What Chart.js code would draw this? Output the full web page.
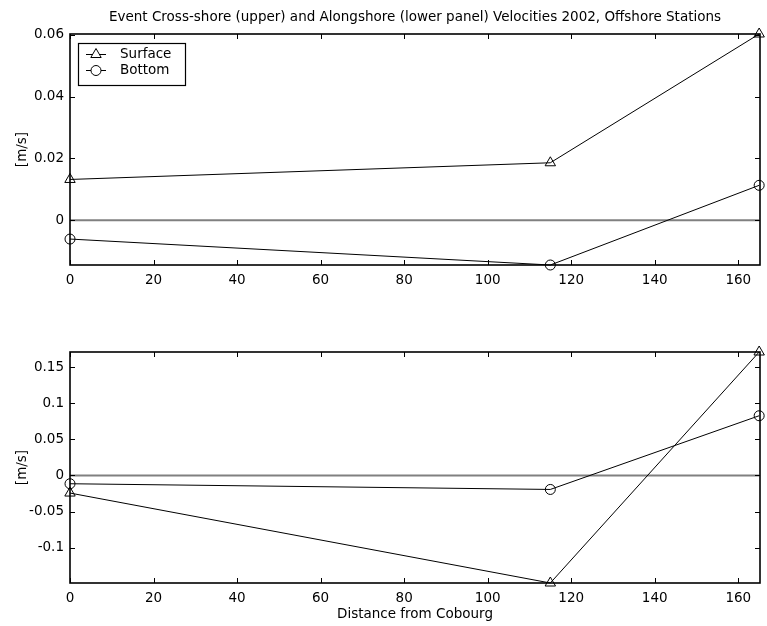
<!DOCTYPE html>
<html>
<head>
<meta charset="utf-8">
<script src="https://cdn.jsdelivr.net/npm/chart.js@4.4.1/dist/chart.umd.min.js"></script>
<style>
  html, body { margin: 0; padding: 0; background: #fff; }
  #wrap { position: relative; width: 767px; height: 626px; }
  .panel { position: absolute; left: 0; width: 767px; }
  #upper { top: 0; height: 300px; }
  #lower { top: 300px; height: 326px; }
</style>
</head>
<body>
<div id="wrap">
  <div class="panel" id="upper"><canvas id="crossChart"></canvas></div>
  <div class="panel" id="lower"><canvas id="alongChart"></canvas></div>
</div>
<script>
// distance from Cobourg of the three stations
const distances = [0, 115, 165];

// upper panel: cross-shore velocities [m/s]
const crossSurface = [0.0132, 0.0186, 0.0603];
const crossBottom = [-0.0061, -0.0145, 0.0113];

// lower panel: alongshore velocities [m/s]
const alongSurface = [-0.0244, -0.149, 0.171];
const alongBottom = [-0.0115, -0.0194, 0.0827];

const xTicks = [0, 20, 40, 60, 80, 100, 120, 140, 160];
const crossTicks = [0, 0.02, 0.04, 0.06];
const alongTicks = [-0.1, -0.05, 0, 0.05, 0.1, 0.15];

const FONT = '"DejaVu Sans", Arial, sans-serif';
const FSIZE = 13.5;
Chart.defaults.font.family = FONT;
Chart.defaults.font.size = FSIZE;
Chart.defaults.color = '#000';

// frame around the axes with MATLAB-style inward ticks on all four sides
const framePlugin = {
    id: 'frame',
    afterDatasetsDraw(chart) {
        const ctx = chart.ctx;
        const a = chart.chartArea;
        const x = chart.scales.x;
        const y = chart.scales.y;
        ctx.save();
        ctx.strokeStyle = '#000';
        ctx.lineWidth = 1;
        ctx.beginPath();
        x.ticks.forEach(t => {
            const px = Math.round(x.getPixelForValue(t.value)) + 0.5;
            ctx.moveTo(px, a.bottom); ctx.lineTo(px, a.bottom - 5);
            ctx.moveTo(px, a.top); ctx.lineTo(px, a.top + 5);
        });
        y.ticks.forEach(t => {
            const py = Math.round(y.getPixelForValue(t.value)) + 0.5;
            ctx.moveTo(a.left, py); ctx.lineTo(a.left + 5, py);
            ctx.moveTo(a.right, py); ctx.lineTo(a.right - 5, py);
        });
        ctx.stroke();
        ctx.lineWidth = 1.6;
        ctx.strokeRect(a.left, a.top, a.right - a.left, a.bottom - a.top);
        ctx.restore();
    }
};

// boxed legend with the line drawn through the marker
const boxLegendPlugin = {
    id: 'boxLegend',
    afterDraw(chart, args, opts) {
        if (!opts.show) return;
        const ctx = chart.ctx;
        const items = chart.data.datasets.filter(d => d.label !== 'zero');
        const bx = 78, by = 43, bw = 107, bh = 42;
        ctx.save();
        ctx.fillStyle = '#fff';
        ctx.fillRect(bx, by, bw, bh);
        ctx.strokeStyle = '#000';
        ctx.lineWidth = 1.2;
        ctx.strokeRect(bx + 0.5, by + 0.5, bw, bh);
        items.forEach((d, i) => {
            const cy = by + 11.5 + i * 16;
            ctx.lineWidth = 1;
            ctx.beginPath();
            ctx.moveTo(86, cy); ctx.lineTo(106, cy);
            ctx.stroke();
            ctx.fillStyle = '#fff';
            Chart.helpers.drawPoint(ctx, {
                pointStyle: d.pointStyle, radius: d.pointRadius, borderWidth: 1
            }, 96, cy);
            ctx.fillStyle = '#000';
            ctx.font = FSIZE + 'px ' + FONT;
            ctx.textBaseline = 'middle';
            ctx.fillText(d.label, 120, cy);
        });
        ctx.restore();
    }
};

function fmt(v) {
    return String(Number(v.toFixed(4)));
}

function noPad(s) {
    s.paddingLeft = 0;
    s.paddingRight = 0;
    s.paddingTop = 0;
    s.paddingBottom = 0;
}

function makePanel(canvasId, surface, bottom, ymin, ymax, yTicks, opts) {
    const canvas = document.getElementById(canvasId);
    const marker = { borderColor: '#000', backgroundColor: 'rgba(0,0,0,0)', borderWidth: 1,
        pointBorderWidth: 1, tension: 0, clip: false };
    return new Chart(canvas, {
        type: 'line',
        data: {
            labels: distances,
            datasets: [
                { label: 'zero', data: distances.map(d => ({ x: d, y: 0 })), borderColor: '#808080',
                  borderWidth: 2, pointRadius: 0, order: 3, clip: 0 },
                Object.assign({ label: 'Surface', data: distances.map((d, i) => ({ x: d, y: surface[i] })),
                  pointStyle: 'triangle', pointRadius: 6, order: 1 }, marker),
                Object.assign({ label: 'Bottom', data: distances.map((d, i) => ({ x: d, y: bottom[i] })),
                  pointStyle: 'circle', pointRadius: 5, order: 2 }, marker)
            ]
        },
        options: {
            responsive: true,
            maintainAspectRatio: false,
            animation: false,
            events: [],
            layout: { padding: { top: opts.top, right: 3, left: 0, bottom: 0 } },
            plugins: {
                legend: { display: false },
                tooltip: { enabled: false },
                title: {
                    display: !!opts.title,
                    text: opts.title,
                    fullSize: false,
                    font: { size: FSIZE, weight: 'normal' },
                    padding: { top: 9, bottom: 8.8 }
                },
                boxLegend: { show: opts.legend }
            },
            scales: {
                x: {
                    type: 'linear',
                    min: 0,
                    max: 165.2,
                    grid: { display: false, drawTicks: false },
                    border: { display: false },
                    ticks: { padding: 7, maxRotation: 0, callback: v => fmt(v) },
                    afterBuildTicks: s => { s.ticks = xTicks.map(v => ({ value: v })); },
                    afterFit: s => { s.height = opts.xHeight; noPad(s); },
                    title: {
                        display: !!opts.xTitle,
                        text: opts.xTitle,
                        font: { size: FSIZE },
                        padding: { top: 0, bottom: 3 }
                    }
                },
                y: {
                    min: ymin,
                    max: ymax,
                    grid: { display: false, drawTicks: false },
                    border: { display: false },
                    ticks: { padding: 6, callback: v => fmt(v) },
                    afterBuildTicks: s => { s.ticks = yTicks.map(v => ({ value: v })); },
                    afterFit: s => { s.width = 70; noPad(s); },
                    title: {
                        display: true,
                        text: '[m/s]',
                        font: { size: FSIZE },
                        padding: { top: 14, bottom: 0 }
                    }
                }
            }
        },
        plugins: [framePlugin, boxLegendPlugin]
    });
}

makePanel('crossChart', crossSurface, crossBottom, -0.0145, 0.0603, crossTicks, {
    title: 'Event Cross-shore (upper) and Alongshore (lower panel) Velocities 2002, Offshore Stations',
    legend: true,
    top: 0,
    xHeight: 35
});

makePanel('alongChart', alongSurface, alongBottom, -0.149, 0.171, alongTicks, {
    legend: false,
    top: 52,
    xHeight: 43,
    xTitle: 'Distance from Cobourg'
});
</script>
</body>
</html>
